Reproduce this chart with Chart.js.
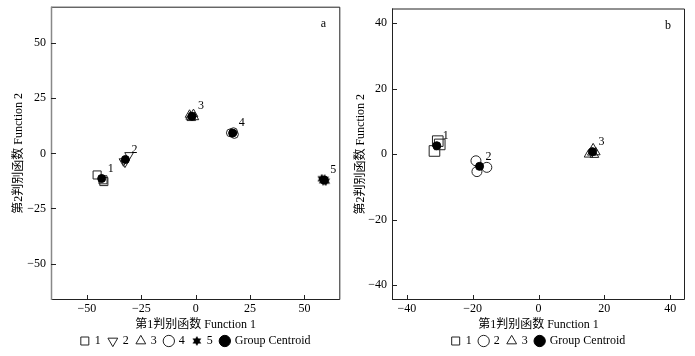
<!DOCTYPE html>
<html>
<head>
<meta charset="utf-8">
<script src="https://cdn.jsdelivr.net/npm/chart.js@4.4.0/dist/chart.umd.min.js"></script>
<style>
  body { margin: 0; background: #fff; }
  #wrap { position: relative; width: 695px; height: 356px; }
  canvas { position: absolute; top: 0; }
  #chart-a { left: 0; }
  #chart-b { left: 347px; }
</style>
</head>
<body>
<div id="wrap">
  <canvas id="chart-a" width="347" height="356"></canvas>
  <canvas id="chart-b" width="348" height="356"></canvas>
</div>
<script>
const FONT = '"Liberation Serif", "Noto Sans CJK SC", serif';
const INK = '#222';
const X_TITLE = '第1判别函数 Function 1';
const Y_TITLE = '第2判别函数 Function 2';

// Panel a - five groups
const groupsA = ['1', '2', '3', '4', '5'];
const a1 = [[-45.3, -9.8], [-42.6, -12.0], [-42.2, -12.8]];
const a2 = [[-30.6, -0.8], [-33.2, -3.6], [-32.5, -4.2]];
const a3 = [[-2.8, 17.5], [-1.0, 17.8], [-2.0, 16.0], [-0.6, 16.4], [-2.5, 16.6]];
const a4 = [[16.0, 9.3], [17.8, 8.6], [17.4, 9.8]];
const a5 = [[58.0, -11.5], [59.8, -12.6], [59.3, -11.8], [58.6, -12.4]];
const centroidsA = [[-43.2, -11.4], [-32.3, -2.8], [-1.7, 16.8], [17.0, 9.2], [59.1, -12.1]];
const ticksA = [-50, -25, 0, 25, 50];
const rangeA = [-66.5, 66.5];

// Panel b - three groups
const groupsB = ['1', '2', '3'];
const b1 = [[-30.6, 4.0], [-30.0, 3.0], [-31.6, 1.0]];
const b2 = [[-19.0, -2.0], [-18.7, -5.3], [-15.7, -4.0]];
const b3 = [[15.2, -0.1], [16.6, 1.8], [17.0, -0.2], [16.2, 0.5], [17.4, 0.6]];
const centroidsB = [[-30.9, 2.6], [-17.9, -3.7], [16.4, 0.8]];
const ticksB = [-40, -20, 0, 20, 40];
const rangeB = [-44.5, 44.5];

// filled six-point star used for group 5
function makeStar(size) {
  const c = document.createElement('canvas');
  c.width = c.height = size;
  const g = c.getContext('2d');
  const r = size / 2, ri = r * 0.55;
  g.beginPath();
  for (let i = 0; i < 12; i++) {
    const ang = Math.PI / 6 * i - Math.PI / 2;
    const rr = i % 2 ? ri : r;
    g.lineTo(r + rr * Math.cos(ang), r + rr * Math.sin(ang));
  }
  g.closePath();
  g.fillStyle = '#000';
  g.fill();
  return c;
}

const toPts = arr => arr.map(p => ({ x: p[0], y: p[1] }));

function groupSet(label, pts, style, radius, rotation) {
  return {
    label: label,
    data: toPts(pts),
    pointStyle: style,
    pointRadius: radius,
    pointRotation: rotation || 0,
    borderColor: INK,
    backgroundColor: 'rgba(0,0,0,0)',
    borderWidth: 1,
    order: 1
  };
}

function centroidSet(pts, radius) {
  return {
    label: 'Group Centroid',
    data: toPts(pts),
    pointStyle: 'circle',
    pointRadius: radius,
    borderColor: '#000',
    backgroundColor: '#000',
    borderWidth: 1,
    order: 0
  };
}

// frame with inward ticks, panel letter and group numbers
const framePlugin = {
  id: 'frame',
  beforeDatasetsDraw(chart, args, opts) {
    const { ctx, chartArea: a, scales } = chart;
    ctx.save();
    ctx.lineWidth = 1;
    ctx.strokeStyle = INK;
    ctx.beginPath();
    ctx.moveTo(a.left, a.bottom - 0.5);
    ctx.lineTo(a.right - 0.5, a.bottom - 0.5);
    ctx.lineTo(a.right - 0.5, a.top + 0.5);
    ctx.lineTo(a.left, a.top + 0.5);
    ctx.stroke();
    ctx.strokeStyle = opts.leftColor;
    ctx.lineWidth = opts.leftWidth;
    ctx.beginPath();
    ctx.moveTo(a.left + 0.5, a.top);
    ctx.lineTo(a.left + 0.5, a.bottom);
    ctx.stroke();
    ctx.strokeStyle = INK;
    ctx.lineWidth = 1;
    ctx.beginPath();
    scales.x.ticks.forEach(t => {
      const px = Math.round(scales.x.getPixelForValue(t.value)) + 0.5;
      ctx.moveTo(px, a.bottom);
      ctx.lineTo(px, a.bottom - 5);
    });
    scales.y.ticks.forEach(t => {
      const py = Math.round(scales.y.getPixelForValue(t.value)) + 0.5;
      ctx.moveTo(a.left, py);
      ctx.lineTo(a.left + 5, py);
    });
    ctx.stroke();
    ctx.restore();
  },
  afterDatasetsDraw(chart, args, opts) {
    const { ctx, chartArea: a } = chart;
    ctx.save();
    ctx.fillStyle = '#000';
    ctx.font = '12px ' + FONT;
    ctx.textAlign = 'center';
    ctx.textBaseline = 'middle';
    ctx.fillText(opts.tag, a.right - 17, a.top + 17);
    const meta = chart.getDatasetMeta(chart.data.datasets.length - 1);
    meta.data.forEach((pt, i) => ctx.fillText(opts.names[i], pt.x + 9, pt.y - 10));
    ctx.restore();
  }
};

function axis(range, ticks, title, pad) {
  return {
    type: 'linear',
    min: range[0],
    max: range[1],
    afterBuildTicks: s => { s.ticks = ticks.map(v => ({ value: v })); },
    ticks: {
      color: '#000',
      font: { family: FONT, size: 12 },
      padding: pad,
      maxRotation: 0,
      autoSkip: false,
      callback: v => String(v).replace('-', '\u2212')
    },
    grid: { display: true, drawOnChartArea: false, drawTicks: false, color: 'rgba(0,0,0,0)' },
    border: { display: false },
    title: {
      display: true, text: title, color: '#000',
      font: { family: FONT, size: 12, lineHeight: 1 },
      padding: { top: 0, bottom: -3.4 }
    }
  };
}

function makeChart(id, datasets, range, ticks, tag, names, yWidth, yTitlePad, padding, leftColor, leftWidth) {
  const x = axis(range, ticks, X_TITLE, 2);
  x.afterFit = s => { s.paddingLeft = 0; s.paddingRight = 0; };
  const y = axis(range, ticks, Y_TITLE, 5);
  y.afterFit = s => { s.width = yWidth; s.paddingTop = 0; s.paddingBottom = 0; };
  y.title.padding = { top: yTitlePad, bottom: 0 };
  return new Chart(document.getElementById(id), {
    type: 'scatter',
    data: { datasets: datasets },
    options: {
      responsive: false,
      animation: false,
      layout: { padding: padding },
      scales: { x: x, y: y },
      plugins: {
        tooltip: { enabled: false },
        frame: { tag: tag, names: names, leftColor: leftColor, leftWidth: leftWidth },
        legend: {
          position: 'bottom',
          fullSize: false,
          labels: {
            usePointStyle: true,
            boxHeight: 8,
            boxWidth: 8,
            color: '#000',
            font: { family: FONT, size: 12 },
            padding: 8,
            sort: (p, q) => p.datasetIndex - q.datasetIndex
          }
        }
      }
    },
    plugins: [framePlugin]
  });
}

makeChart('chart-a', [
  groupSet(groupsA[0], a1, 'rect', 5.7),
  groupSet(groupsA[1], a2, 'triangle', 5, 180),
  groupSet(groupsA[2], a3, 'triangle', 5),
  groupSet(groupsA[3], a4, 'circle', 4),
  groupSet(groupsA[4], a5, makeStar(10), 5),
  centroidSet(centroidsA, 4)
], rangeA, ticksA, 'a', groupsA, 51, 13, { top: 3, right: 3, left: 0, bottom: -1 }, '#888', 1.5);

makeChart('chart-b', [
  groupSet(groupsB[0], b1, 'rect', 7.5),
  groupSet(groupsB[1], b2, 'circle', 5),
  groupSet(groupsB[2], b3, 'triangle', 5),
  centroidSet(centroidsB, 4)
], rangeB, ticksB, 'b', groupsB, 45, 8, { top: 4, right: 10, left: 0, bottom: -1 }, INK, 1);
</script>
</body>
</html>
